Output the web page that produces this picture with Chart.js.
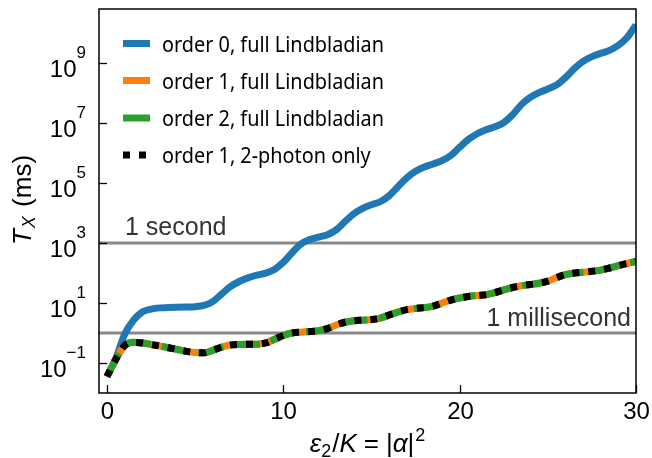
<!DOCTYPE html>
<html>
<head>
<meta charset="utf-8">
<script src="https://cdn.jsdelivr.net/npm/chart.js@4/dist/chart.umd.min.js"></script>
<style>
  html, body { margin: 0; padding: 0; background: #fff; }
  canvas { display: block; }
</style>
</head>
<body>
<canvas id="c" width="652" height="458"></canvas>
<script>
// ---- data ----
const epsValues = [0,0.5,1,1.5,2,2.5,3,3.5,4,4.5,5,5.5,6,6.5,7,7.5,8,8.5,9,9.5,10,10.5,11,11.5,12,12.5,13,13.5,14,14.5,15,15.5,16,16.5,17,17.5,18,18.5,19,19.5,20,20.5,21,21.5,22,22.5,23,23.5,24,24.5,25,25.5,26,26.5,27,27.5,28,28.5,29,29.5,30];
// log10 of T_X in ms
const order0FullLog = [-1.45,-0.85,-0.05,0.42,0.70,0.80,0.84,0.85,0.86,0.87,0.88,0.92,1.05,1.30,1.55,1.72,1.84,1.93,2.00,2.12,2.36,2.68,2.97,3.12,3.20,3.28,3.44,3.72,3.98,4.16,4.28,4.38,4.58,4.88,5.18,5.40,5.54,5.64,5.75,5.92,6.20,6.46,6.65,6.78,6.88,7.02,7.28,7.62,7.86,8.02,8.14,8.28,8.52,8.82,9.06,9.22,9.33,9.43,9.60,9.86,10.28];
const order1FullLog = [-1.45,-0.88,-0.42,-0.31,-0.33,-0.38,-0.43,-0.49,-0.55,-0.61,-0.65,-0.66,-0.58,-0.47,-0.40,-0.38,-0.37,-0.37,-0.33,-0.21,-0.08,0.00,0.03,0.05,0.08,0.15,0.27,0.36,0.41,0.43,0.45,0.50,0.60,0.70,0.78,0.82,0.85,0.90,1.00,1.10,1.17,1.22,1.25,1.28,1.35,1.44,1.52,1.58,1.62,1.66,1.73,1.85,1.95,2.00,2.03,2.06,2.10,2.17,2.25,2.32,2.39];
const order2FullLog = order1FullLog.slice();
const order1TwoPhotonLog = order1FullLog.slice();
const seriesLabels = ["order 0, full Lindbladian","order 1, full Lindbladian","order 2, full Lindbladian","order 1, 2-photon only"];
const refLineValues = [1000, 1];          // 1 second, 1 millisecond (in ms)
const refLineLabels = ["1 second", "1 millisecond"];
const xTickValues = [0, 10, 20, 30];
const yTickExponents = [-1, 1, 3, 5, 7, 9];
const xMin = -0.45, xMax = 30, yMinExp = -2, yMaxExp = 10.81;

// ---- helpers ----
const pts = (logs) => epsValues.map((x, i) => ({ x: x, y: Math.pow(10, logs[i]) }));
const BLUE = '#1f77b4', ORANGE = '#ff7f0e', GREEN = '#2ca02c';
const SANS = '"Liberation Sans", Arial, sans-serif';
const LEG = '"Noto Sans", "Open Sans", sans-serif';

function runsWidth(ctx, runs) {
  let w = 0;
  runs.forEach(r => { ctx.font = r.font; w += ctx.measureText(r.t).width + (r.gap || 0); });
  return w;
}
function drawRuns(ctx, runs, x, y, align) {
  const w = runsWidth(ctx, runs);
  let cx = align === 'center' ? x - w / 2 : (align === 'right' ? x - w : x);
  runs.forEach(r => {
    ctx.font = r.font;
    ctx.fillText(r.t, cx, y + (r.dy || 0));
    cx += ctx.measureText(r.t).width + (r.gap || 0);
  });
}

const deco = {
  id: 'deco',
  afterDraw(chart) {
    const ctx = chart.ctx;
    const { left, right, top, bottom } = chart.chartArea;
    const xs = chart.scales.x, ys = chart.scales.y;
    ctx.save();
    ctx.textBaseline = 'alphabetic';
    ctx.textAlign = 'left';
    ctx.fillStyle = '#000';

    // frame
    ctx.strokeStyle = '#000';
    ctx.lineWidth = 1.5;
    ctx.strokeRect(left, top, right - left, bottom - top);

    // x ticks (inward) + labels
    ctx.lineWidth = 1.3;
    xTickValues.forEach(v => {
      const px = Math.round(xs.getPixelForValue(v)) + 0.5;
      ctx.beginPath(); ctx.moveTo(px, bottom); ctx.lineTo(px, bottom - 8); ctx.stroke();
      ctx.font = '24px ' + SANS;
      ctx.textAlign = 'center';
      ctx.fillText(String(v), px, 418.5);
    });
    ctx.textAlign = 'left';

    // y ticks (inward) + labels 10^n
    yTickExponents.forEach(e => {
      const py = Math.round(ys.getPixelForValue(Math.pow(10, e))) + 0.5;
      ctx.beginPath(); ctx.moveTo(left, py); ctx.lineTo(left + 8, py); ctx.stroke();
      const sup = (e < 0 ? '\u2212' : '') + Math.abs(e);
      ctx.font = '17px ' + SANS;
      const sw = ctx.measureText(sup).width;
      ctx.font = '24px ' + SANS;
      const bw = ctx.measureText('10').width;
      const rightEdge = left - 13;
      ctx.fillText('10', rightEdge - sw - bw, py + 13);
      ctx.font = '17px ' + SANS;
      ctx.fillText(sup, rightEdge - sw, py - 6);
    });

    // reference line labels
    ctx.fillStyle = '#333';
    ctx.font = '25px ' + SANS;
    ctx.fillText(refLineLabels[0], left + 26, ys.getPixelForValue(refLineValues[0]) - 8);
    ctx.textAlign = 'right';
    ctx.fillText(refLineLabels[1], right - 5, ys.getPixelForValue(refLineValues[1]) - 7);
    ctx.textAlign = 'left';

    // legend
    const legFont = '21.5px ' + LEG;
    ctx.font = legFont;
    const sx = Math.min(1, 222 / ctx.measureText(seriesLabels[0]).width);
    const rowY = [43.5, 80.5, 118, 155];
    const styles = [
      { c: BLUE, d: [] },
      { c: ORANGE, d: [] },
      { c: GREEN, d: [] },
      { c: '#000', d: [7, 9] }
    ];
    rowY.forEach((y, i) => {
      const s = styles[i];
      ctx.strokeStyle = s.c; ctx.lineWidth = 7; ctx.lineCap = 'butt';
      ctx.setLineDash(s.d);
      ctx.beginPath(); ctx.moveTo(123, y); ctx.lineTo(150, y); ctx.stroke();
      ctx.setLineDash([]);
      ctx.fillStyle = '#000';
      ctx.font = legFont;
      ctx.save();
      ctx.translate(162, y + 8);
      ctx.scale(sx, 1);
      ctx.fillText(seriesLabels[i], 0, 0);
      ctx.restore();
    });

    // y axis title: T_X (ms)
    ctx.fillStyle = '#000';
    ctx.save();
    ctx.translate(31, 200);
    ctx.rotate(-Math.PI / 2);
    drawRuns(ctx, [
      { t: 'T', font: 'italic 26px ' + SANS, gap: 1 },
      { t: 'X', font: 'italic 18px ' + SANS, dy: 4, gap: 2 },
      { t: ' (ms)', font: '26px ' + SANS }
    ], 0, 0, 'center');
    ctx.restore();

    // x axis title: eps_2/K = |alpha|^2
    drawRuns(ctx, [
      { t: '\u03b5', font: 'italic 26px ' + SANS },
      { t: '2', font: '18px ' + SANS, dy: 5, gap: 1 },
      { t: '/', font: '26px ' + SANS },
      { t: 'K', font: 'italic 26px ' + SANS, gap: 7 },
      { t: '=', font: '26px ' + SANS, gap: 7 },
      { t: '|', font: '26px ' + SANS },
      { t: '\u03b1', font: 'italic 26px ' + SANS },
      { t: '|', font: '26px ' + SANS, gap: 1 },
      { t: '2', font: '18px ' + SANS, dy: -11 }
    ], (left + right) / 2, 452, 'center');

    ctx.restore();
  }
};

new Chart(document.getElementById('c'), {
  type: 'line',
  data: {
    datasets: [
      { label: 'ref1', data: [{ x: xMin, y: refLineValues[0] }, { x: xMax, y: refLineValues[0] }], borderColor: '#888', borderWidth: 3, order: 10 },
      { label: 'ref2', data: [{ x: xMin, y: refLineValues[1] }, { x: xMax, y: refLineValues[1] }], borderColor: '#888', borderWidth: 3, order: 10 },
      { label: seriesLabels[0], data: pts(order0FullLog), borderColor: BLUE, borderWidth: 7, order: 4, cubicInterpolationMode: 'monotone' },
      { label: seriesLabels[1], data: pts(order1FullLog), borderColor: ORANGE, borderWidth: 7, order: 3, cubicInterpolationMode: 'monotone' },
      { label: seriesLabels[2], data: pts(order2FullLog), borderColor: GREEN, borderWidth: 7, order: 2, borderDash: [26, 11], cubicInterpolationMode: 'monotone' },
      { label: seriesLabels[3], data: pts(order1TwoPhotonLog), borderColor: '#000', borderWidth: 7, order: 1, borderDash: [7, 9], cubicInterpolationMode: 'monotone' }
    ]
  },
  options: {
    responsive: false,
    animation: false,
    devicePixelRatio: 1,
    layout: { padding: { left: 0, right: 16, top: 9, bottom: 0 } },
    elements: { point: { radius: 0 }, line: { borderCapStyle: 'butt', fill: false } },
    plugins: { legend: { display: false }, tooltip: { enabled: false } },
    scales: {
      x: {
        type: 'linear', min: xMin, max: xMax,
        grid: { display: false }, border: { display: false },
        ticks: { display: false },
        afterFit: (s) => { s.height = 65; }
      },
      y: {
        type: 'logarithmic', min: Math.pow(10, yMinExp), max: Math.pow(10, yMaxExp),
        grid: { display: false }, border: { display: false },
        ticks: { display: false },
        afterFit: (s) => { s.width = 99; }
      }
    }
  },
  plugins: [deco]
});
</script>
</body>
</html>
